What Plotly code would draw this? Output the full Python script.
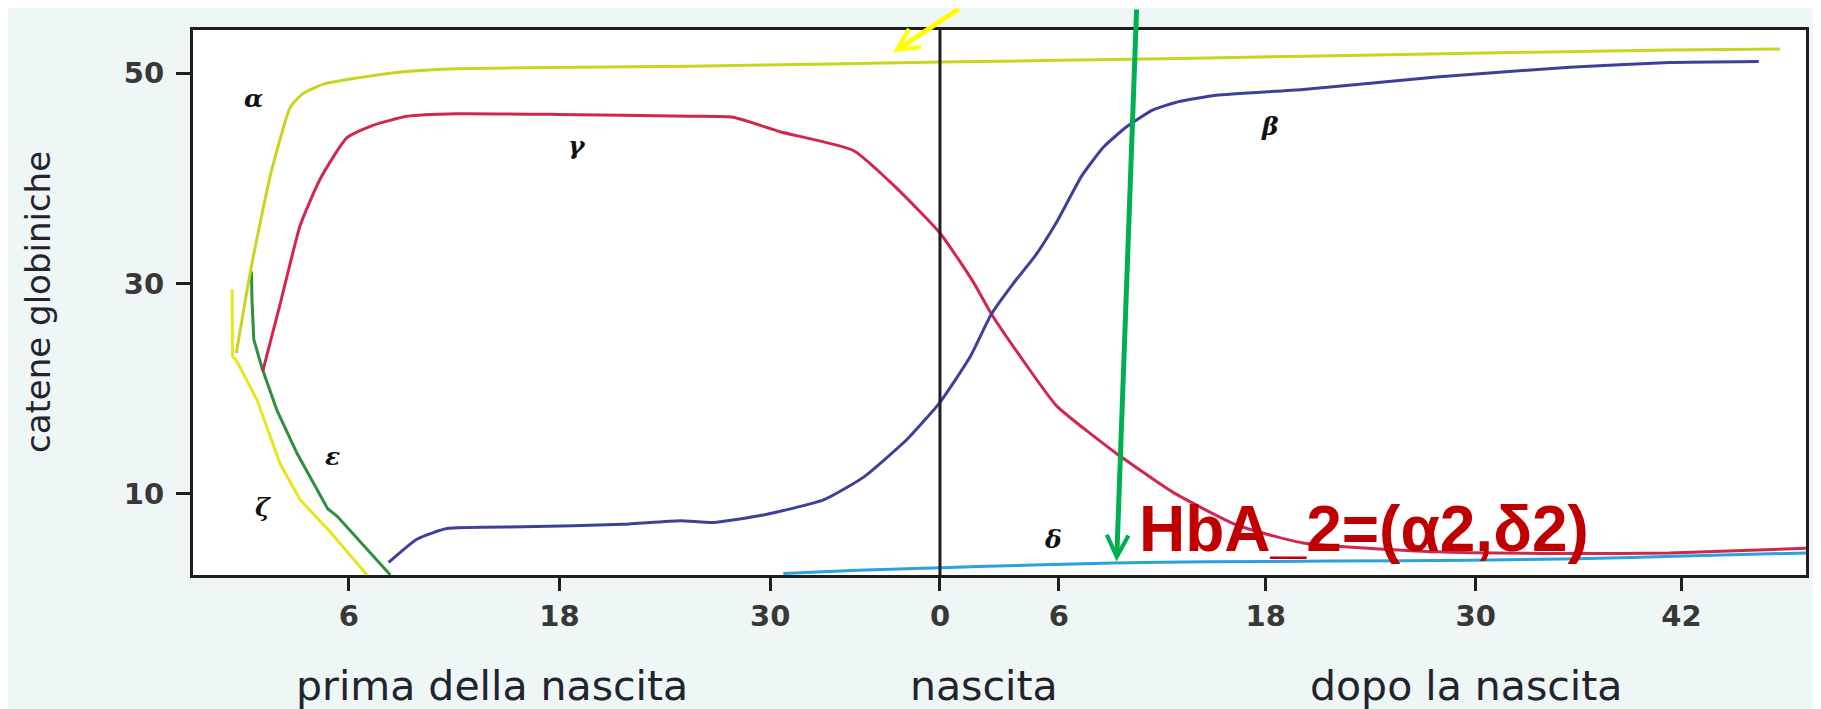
import plotly.graph_objects as go

# ---------------- data (weeks from conception; birth ~ 39.7) ----------------
TICK_POS = [6, 18, 30, 39.67, 46.44, 58.22, 70.18, 81.9]
TICK_TEXT = ["6", "18", "30", "0", "6", "18", "30", "42"]
Y_TICKS = [10, 30, 50]
X_RANGE = [-2.87, 88.99]
Y_RANGE = [2.3, 54.1]
BIRTH = TICK_POS[3]

ZETA_T = [-0.64, -0.62, -0.40, 0.78, 2.10, 3.24, 4.95, 7.04]
ZETA_V = [29.45, 23.1, 22.7, 18.93, 12.82, 9.43, 6.38, 2.3]

EPS_T = [0.46, 0.49, 0.59, 1.06, 1.92, 3.06, 4.80, 5.33, 8.37]
EPS_V = [31.15, 28.43, 24.7, 21.98, 17.91, 13.84, 8.6, 7.9, 2.3]

ALPHA_T = [-0.40, 0.40, 1.54, 2.67, 3.43, 4.57, 6.47, 9.32, 12.16, 18.99, 25.44,
           39.67, 53.33, 66.0, 81.2, 87.5]
ALPHA_V = [23.4, 31.15, 40.3, 46.76, 48.1, 48.96, 49.53, 50.15, 50.42, 50.56, 50.66,
           51.05, 51.4, 51.78, 52.2, 52.3]

GAMMA_T = [1.10, 2.10, 3.24, 4.38, 5.90, 7.42, 9.32, 12.16, 17.85, 25.44, 27.9,
           30.56, 34.74, 37.2, 39.67, 41.57, 42.6, 44.4, 46.3, 49.53, 52.9,
           56.56, 60.35, 67.94, 75.53, 81.22, 88.99]
GAMMA_V = [21.65, 28.1, 35.56, 39.97, 43.87, 45.06, 45.9, 46.14, 46.08, 45.9, 45.8,
           44.43, 42.65, 39.07, 34.8, 30.14, 27.1, 22.7, 18.4, 14.08, 10.2,
           7.05, 5.35, 4.5, 4.34, 4.4, 4.84]

BETA_T = [8.27, 9.88, 11.59, 15.95, 21.64, 24.87, 26.77, 29.61, 33.03, 35.3, 37.77,
          39.67, 41.38, 42.6, 43.84, 45.08, 46.3, 47.77, 49.0, 50.3, 51.8, 53.3,
          55.4, 60.35, 67.94, 75.53, 81.22, 86.3]
BETA_V = [3.49, 5.7, 6.71, 6.88, 7.12, 7.46, 7.28, 8.0, 9.43, 11.58, 15.15,
          18.71, 23.01, 27.1, 30.0, 32.6, 35.8, 40.3, 43.0, 44.9, 46.5, 47.3,
          47.9, 48.45, 49.64, 50.56, 51.0, 51.1]

DELTA_T = [30.75, 35.0, 39.67, 45.0, 49.53, 55.0, 62.0, 70.0, 76.0, 82.0, 88.99]
DELTA_V = [2.45, 2.75, 3.0, 3.25, 3.45, 3.55, 3.62, 3.7, 3.85, 4.1, 4.4]

GREEK_TEXT = ["α", "γ", "ε", "ζ", "β", "δ"]
GREEK_T = [0.59, 19.0, 5.05, 1.13, 58.45, 46.12]
GREEK_V = [47.58, 43.16, 13.56, 8.67, 44.96, 5.63]

XTITLES = ["prima della nascita", "nascita", "dopo la nascita"]
XTITLE_T = [14.14, 42.2, 69.6]
YTITLE = "catene globiniche"

HBA_TEXT = "HbA_2=(α2,δ2)"
HBA_T, HBA_V = 50.88, 6.63

# arrows: tip (t, v) and tail offset in pixels (tail at the top edge of the figure)
ARROW_TIP_T = [37.0, 49.73]
ARROW_TIP_V = [51.95, 3.59]
ARROW_AX = [67, 20]
ARROW_AY = [-45, -554]
ARROW_COLOR = ["#ffff00", "#00b050"]

# ---------------- figure ----------------
fig = go.Figure()

series = [
    (ZETA_T, ZETA_V, "#e6e61e", "linear"),
    (EPS_T, EPS_V, "#2f8f3f", "linear"),
    (ALPHA_T, ALPHA_V, "#c9d41f", "spline"),
    (GAMMA_T, GAMMA_V, "#d1264e", "spline"),
    (BETA_T, BETA_V, "#3e3f98", "spline"),
    (DELTA_T, DELTA_V, "#2ba2de", "spline"),
]
for t, v, c, shp in series:
    line = dict(color=c, width=3, shape=shp)
    if shp == "spline":
        line["smoothing"] = 0.5
    fig.add_trace(go.Scatter(x=t, y=v, mode="lines", line=line,
                             hoverinfo="skip", showlegend=False))

# birth line
fig.add_shape(type="line", xref="x", yref="paper", x0=BIRTH, x1=BIRTH, y0=0, y1=1,
              line=dict(color="#1e1e1e", width=3), layer="above")

ann = []
for txt, t, v in zip(GREEK_TEXT, GREEK_T, GREEK_V):
    ann.append(dict(x=t, y=v, xref="x", yref="y", text="<i><b>" + txt + "</b></i>",
                    showarrow=False, font=dict(family="DejaVu Serif", size=25, color="#111111")))

for txt, t in zip(XTITLES, XTITLE_T):
    ann.append(dict(x=t, y=-0.2044, xref="x", yref="paper", text=txt, showarrow=False,
                    xanchor="center", yanchor="middle",
                    font=dict(family="DejaVu Sans", size=41, color="#23232d")))

ann.append(dict(x=-0.0964, y=0.5, xref="paper", yref="paper", text=YTITLE,
                showarrow=False, textangle=-90, xanchor="center", yanchor="middle",
                font=dict(family="DejaVu Sans", size=34, color="#23232d")))

ann.append(dict(x=HBA_T, y=HBA_V, xref="x", yref="y", text="<b>" + HBA_TEXT + "</b>",
                showarrow=False, xanchor="left", yanchor="middle",
                font=dict(family="Liberation Sans, Arial", size=64, color="#c00000")))

for tt, vv, ax, ay, c in zip(ARROW_TIP_T, ARROW_TIP_V, ARROW_AX, ARROW_AY, ARROW_COLOR):
    ann.append(dict(x=tt, y=vv, xref="x", yref="y", text="", showarrow=True,
                    ax=ax, ay=ay, axref="pixel", ayref="pixel",
                    arrowhead=5, arrowsize=0.85, arrowwidth=5, arrowcolor=c,
                    standoff=0))

fig.update_layout(
    width=1821, height=709,
    margin=dict(l=184.5, r=22.5, t=22, b=141.5, pad=0),
    paper_bgcolor="#eff6f6", plot_bgcolor="#ffffff",
    annotations=ann,
    xaxis=dict(range=X_RANGE, tickvals=TICK_POS, ticktext=TICK_TEXT,
               showgrid=False, zeroline=False, showline=True, mirror=True,
               linecolor="#1e1e1e", linewidth=3,
               ticks="outside", ticklen=13, tickwidth=2.5, tickcolor="#1e1e1e",
               tickfont=dict(family="DejaVu Sans", size=29, color="#383838", weight="bold"),
               ticklabelstandoff=0),
    yaxis=dict(range=Y_RANGE, tickvals=Y_TICKS,
               showgrid=False, zeroline=False, showline=True, mirror=True,
               linecolor="#1e1e1e", linewidth=3,
               ticks="outside", ticklen=14, tickwidth=2.5, tickcolor="#1e1e1e",
               tickfont=dict(family="DejaVu Sans", size=29, color="#383838", weight="bold"),
               ticklabelstandoff=6),
)

fig.write_html("out.html", post_script="document.body.style.overflow='hidden';")
